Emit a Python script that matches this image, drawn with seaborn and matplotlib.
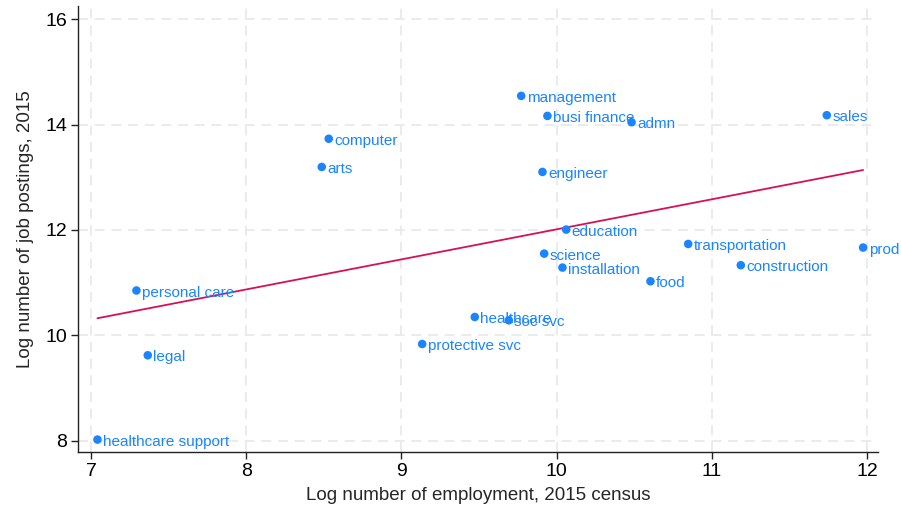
import numpy as np
import pandas as pd
import seaborn as sns
import matplotlib
matplotlib.use("Agg")
import matplotlib.pyplot as plt

occupations = [
    "healthcare support", "personal care", "legal", "computer", "arts",
    "management", "busi finance", "admn", "sales", "engineer", "education",
    "transportation", "prod", "science", "installation", "food",
    "construction", "healthcare", "soc svc", "protective svc",
]
log_employment = [
    7.042, 7.293, 7.366, 8.532, 8.487,
    9.772, 9.941, 10.483, 11.741, 9.909, 10.062,
    10.848, 11.975, 9.920, 10.038, 10.605,
    11.187, 9.473, 9.692, 9.134,
]
log_postings = [
    8.02, 10.85, 9.62, 13.73, 13.195,
    14.544, 14.164, 14.044, 14.177, 13.10, 12.006,
    11.733, 11.665, 11.55, 11.285, 11.025,
    11.33, 10.347, 10.284, 9.834,
]

df = pd.DataFrame({"occ": occupations, "x": log_employment, "y": log_postings})

sns.set_theme(style="white")
plt.rcParams["font.family"] = ["Liberation Sans", "DejaVu Sans"]

BLUE = "#1a85ff"
RED = "#d41159"

fig, ax = plt.subplots(figsize=(9.01, 5.14), dpi=100)
fig.subplots_adjust(left=0.087, right=0.975, top=0.988, bottom=0.12)

sns.regplot(data=df, x="x", y="y", ax=ax, ci=None, truncate=True,
            scatter_kws=dict(s=38, color=BLUE, edgecolor="none", alpha=1, zorder=3),
            line_kws=dict(color=RED, lw=1.3, zorder=2))

for occ, xv, yv in zip(occupations, log_employment, log_postings):
    ax.annotate(occ, (xv, yv), xytext=(4, -1.5), textcoords="offset points",
                ha="left", va="center", color=BLUE, fontsize=11, zorder=4)

ax.set_xlim(6.919, 12.074)
ax.set_ylim(7.778, 16.247)
ax.set_xticks([7, 8, 9, 10, 11, 12])
ax.set_yticks([8, 10, 12, 14, 16])
ax.grid(True, color="#e8e8e8", linestyle=(0, (6, 4)), linewidth=1.2)
ax.set_axisbelow(True)

for side in ("top", "right"):
    ax.spines[side].set_visible(False)
for side in ("left", "bottom"):
    ax.spines[side].set_color("#222222")
    ax.spines[side].set_linewidth(1.0)

ax.tick_params(axis="both", direction="out", length=5, width=1,
               color="#222222", labelsize=14, labelcolor="black",
               left=True, bottom=True, pad=3)

ax.set_xlabel("Log number of employment, 2015 census", fontsize=13.5, labelpad=5)
ax.set_ylabel("Log number of job postings, 2015", fontsize=13.5, labelpad=8)

fig.savefig("out.png", dpi=100)
